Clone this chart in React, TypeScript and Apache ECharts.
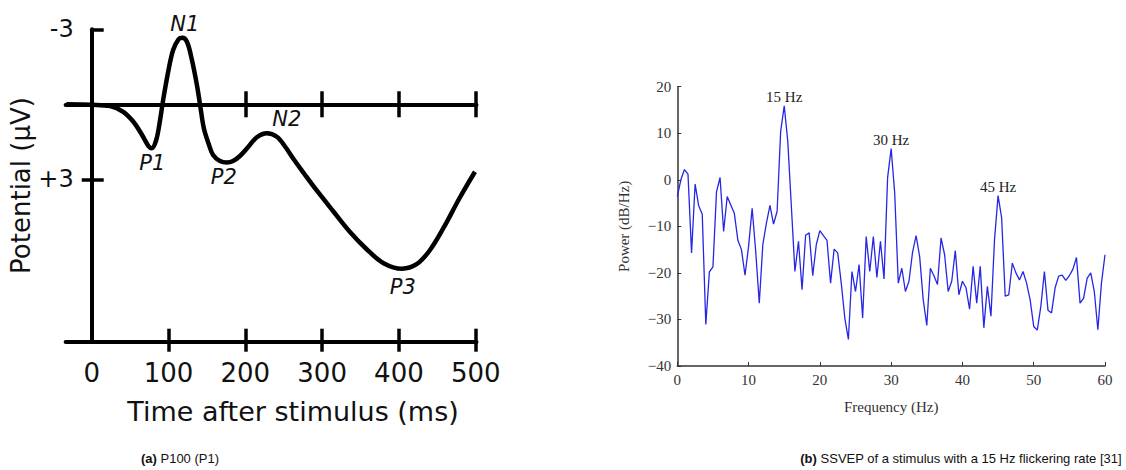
import React, { useEffect, useRef } from "react";
import * as echarts from "echarts";

// ---------- (a) P100 ERP waveform ----------
const erpTime = [-33, 0, 24, 41, 54, 65, 74, 78, 84, 89, 93, 100, 106, 113, 118, 124, 130, 137, 141, 146, 152, 158, 167, 176, 184, 193, 204, 215, 228, 241, 252, 263, 276, 293, 315, 336, 358, 380, 404, 423, 440, 458, 479, 499];
const erpPotential = [0, 0.02, 0.07, 0.3, 0.69, 1.2, 1.68, 1.76, 1.43, 0.63, -0.17, -1.37, -2.17, -2.6, -2.66, -2.5, -1.84, -0.77, 0, 0.96, 1.56, 2.03, 2.27, 2.33, 2.27, 2.07, 1.7, 1.32, 1.16, 1.3, 1.7, 2.2, 2.75, 3.45, 4.3, 5.1, 5.8, 6.36, 6.58, 6.4, 5.85, 4.95, 3.75, 2.7];
const erpXLabels = [0, 100, 200, 300, 400, 500];
const erpBottomTicks = [100, 200, 300, 400, 500];
const erpZeroTicks = [200, 300, 400, 500];
const erpYTicks = [-3, 3];
const erpPeakNames = ["N1", "P1", "P2", "N2", "P3"];
const erpPeakTime = [120, 79, 172, 254, 405];
const erpPeakPos = [-3, 2.35, 2.9, 0.6, 7.3];

// ---------- (b) SSVEP spectrum ----------
const freqHz = [
  0, 0.5, 1, 1.5, 2, 2.5, 3, 3.5, 4, 4.5, 5, 5.5, 6, 6.5, 7, 7.5, 8, 8.5, 9, 9.5,
  10, 10.5, 11, 11.5, 12, 12.5, 13, 13.5, 14, 14.5, 15, 15.5, 16, 16.5, 17, 17.5, 18, 18.5, 19, 19.5,
  20, 20.5, 21, 21.5, 22, 22.5, 23, 23.5, 24, 24.5, 25, 25.5, 26, 26.5, 27, 27.5, 28, 28.5, 29, 29.5,
  30, 30.5, 31, 31.5, 32, 32.5, 33, 33.5, 34, 34.5, 35, 35.5, 36, 36.5, 37, 37.5, 38, 38.5, 39, 39.5,
  40, 40.5, 41, 41.5, 42, 42.5, 43, 43.5, 44, 44.5, 45, 45.5, 46, 46.5, 47, 47.5, 48, 48.5, 49, 49.5,
  50, 50.5, 51, 51.5, 52, 52.5, 53, 53.5, 54, 54.5, 55, 55.5, 56, 56.5, 57, 57.5, 58, 58.5, 59, 59.5, 60,
];
const powerDb = [
  -3.6, 0, 2.2, 1.2, -15.7, -0.9, -5.6, -7.4, -31.1, -19.8, -18.7, -2.6, 0.5, -11.1, -3.6, -5.4, -7.2, -13.0, -15.0, -20.5,
  -14.3, -6.1, -15.4, -26.5, -13.9, -9.3, -5.5, -9.5, -6.8, 10.4, 15.9, 8.2, -5.7, -19.7, -13.2, -23.6, -11.9, -11.4, -20.6, -13.9,
  -10.9, -12.0, -13.0, -22.2, -14.9, -15.7, -22.2, -29.7, -34.3, -19.7, -24.0, -18.2, -29.7, -12.2, -19.7, -12.2, -21.0, -13.2, -21.3, 0.4,
  6.7, -2.9, -22.2, -19.0, -24.0, -21.8, -15.6, -12.0, -16.5, -25.8, -31.3, -19.0, -20.6, -22.5, -12.5, -16.1, -24.0, -21.8, -15.2, -24.7,
  -21.8, -23.2, -27.8, -18.6, -26.5, -18.6, -31.8, -22.9, -29.3, -12.9, -3.4, -8.2, -25.0, -24.7, -17.9, -20.0, -21.5, -19.7, -22.2, -25.8,
  -31.5, -32.3, -27.2, -19.7, -28.0, -28.6, -23.2, -20.7, -20.5, -21.6, -20.6, -19.2, -16.7, -26.5, -25.4, -21.1, -20.0, -24.0, -32.2, -22.2, -16.1,
];
const peakFreqs = [15, 30, 45];
const peakPowers = [15.9, 6.7, -3.4];
const peakLabels = ["15 Hz", "30 Hz", "45 Hz"];
const specXTicks = [0, 10, 20, 30, 40, 50, 60];

const SANS = "DejaVu Sans";
const SERIF = "Liberation Serif";

export default function App() {
  const ref = useRef<HTMLDivElement>(null);
  useEffect(() => {
    if (!ref.current) return;
    const chart = echarts.init(ref.current, null, { renderer: "svg" });

    const left = 65.6, right = 476.5, top = 29.3, bottom = 341.7;
    const xMin = -34, xMax = 501;
    // place the y axis at x = 0 of the time scale
    const yOffset = -((0 - xMin) / (xMax - xMin)) * (right - left);
    const thick = { color: "#000", width: 4 };
    const baseX = {
      gridIndex: 0, type: "value", min: xMin, max: xMax, splitLine: { show: false },
    };
    const baseY = {
      gridIndex: 0, type: "value", min: -3, max: 9.5, inverse: true, splitLine: { show: false },
      offset: yOffset,
    };

    chart.setOption({
      animation: false,
      grid: [
        { left, top, width: right - left, height: bottom - top, containLabel: false, outerBoundsMode: "none" },
        { left: 677.3, top: 86.7, width: 427.7, height: 279.3, containLabel: false, outerBoundsMode: "none" },
      ],
      xAxis: [
        {
          ...baseX, position: "bottom",
          axisLine: { show: true, onZero: false, lineStyle: thick },
          axisTick: { show: true, inside: false, length: 10, customValues: erpBottomTicks, lineStyle: { color: "#000", width: 3.5 } },
          axisLabel: { show: true, customValues: erpXLabels, fontFamily: SANS, fontSize: 26, color: "#111", margin: 18 },
          name: "Time after stimulus (ms)", nameLocation: "middle", nameGap: 56,
          nameTextStyle: { fontFamily: SANS, fontSize: 27, color: "#111", padding: [0, 0, 0, 44] },
        },
        {
          ...baseX, position: "bottom",
          axisLine: { show: false, onZero: false },
          axisTick: { show: true, inside: true, length: 13, customValues: erpBottomTicks, lineStyle: { color: "#000", width: 3.5 } },
          axisLabel: { show: false },
        },
        {
          ...baseX, position: "bottom",
          axisLine: { show: true, onZero: true, lineStyle: thick },
          axisTick: { show: true, inside: true, length: 13, customValues: erpZeroTicks, lineStyle: { color: "#000", width: 3.5 } },
          axisLabel: { show: false },
        },
        {
          ...baseX, position: "bottom",
          axisLine: { show: false, onZero: true },
          axisTick: { show: true, inside: false, length: 13, customValues: erpZeroTicks, lineStyle: { color: "#000", width: 3.5 } },
          axisLabel: { show: false },
        },
        {
          gridIndex: 1, type: "value", min: 0, max: 60, interval: 10, position: "bottom",
          splitLine: { show: false },
          axisLine: { show: true, onZero: false, lineStyle: { color: "#333", width: 1.5 } },
          axisTick: { show: true, inside: true, length: 4, lineStyle: { color: "#333", width: 1 } },
          axisLabel: { fontFamily: SERIF, fontSize: 15, color: "#333", margin: 6, customValues: specXTicks },
          name: "Frequency (Hz)", nameLocation: "middle", nameGap: 33,
          nameTextStyle: { fontFamily: SERIF, fontSize: 15, color: "#333" },
        },
      ],
      yAxis: [
        {
          ...baseY, position: "left",
          axisLine: { show: true, onZero: false, lineStyle: thick },
          axisTick: { show: true, inside: true, length: 12, customValues: erpYTicks, lineStyle: { color: "#000", width: 3.5 } },
          axisLabel: {
            show: true, customValues: erpYTicks, fontFamily: SANS, fontSize: 24, color: "#111", margin: 18,
            formatter: (v: number) => (v > 0 ? "+" + v : String(v)),
          },
          name: "Potential (µV)", nameLocation: "middle", nameGap: 44, nameRotate: 90,
          nameTextStyle: { fontFamily: SANS, fontSize: 26, color: "#111" },
        },
        {
          ...baseY, position: "left",
          axisLine: { show: false, onZero: false },
          axisTick: { show: true, inside: false, length: 10, customValues: [3], lineStyle: { color: "#000", width: 3.5 } },
          axisLabel: { show: false },
        },
        {
          gridIndex: 1, type: "value", min: -40, max: 20, interval: 10, position: "left",
          splitLine: { show: false },
          axisLine: { show: true, onZero: false, lineStyle: { color: "#333", width: 1.5 } },
          axisTick: { show: true, inside: true, length: 4, lineStyle: { color: "#333", width: 1 } },
          axisLabel: {
            fontFamily: SERIF, fontSize: 15, color: "#333", margin: 6,
            formatter: (v: number) => (v < 0 ? "\u2212" + Math.abs(v) : String(v)),
          },
          name: "Power (dB/Hz)", nameLocation: "middle", nameGap: 46, nameRotate: 90,
          nameTextStyle: { fontFamily: SERIF, fontSize: 15, color: "#333" },
        },
      ],
      series: [
        {
          type: "line", xAxisIndex: 0, yAxisIndex: 0,
          data: erpTime.map((t, i) => [t, erpPotential[i]]),
          smooth: 0.35, symbol: "none",
          lineStyle: { color: "#000", width: 4.5 },
          markPoint: {
            symbol: "rect", symbolSize: 1, itemStyle: { color: "rgba(0,0,0,0)" },
            label: { show: true, position: "inside", fontFamily: SANS, fontStyle: "italic", fontSize: 21, color: "#111" },
            data: erpPeakNames.map((n, i) => ({
              coord: [erpPeakTime[i], erpPeakPos[i]], value: n,
              label: { formatter: n, offset: n === "N1" ? [1, -5] : [0, 0] },
            })),
          },
        },
        {
          type: "line", xAxisIndex: 4, yAxisIndex: 2,
          data: freqHz.map((f, i) => [f, powerDb[i]]),
          symbol: "none",
          lineStyle: { color: "#2626e6", width: 1.3 },
          markPoint: {
            symbol: "rect", symbolSize: 1, itemStyle: { color: "rgba(0,0,0,0)" },
            label: { show: true, position: "top", distance: 1, fontFamily: SERIF, fontSize: 15, color: "#222" },
            data: peakFreqs.map((f, i) => ({ coord: [f, peakPowers[i]], value: peakLabels[i], label: { formatter: peakLabels[i] } })),
          },
        },
      ],
      graphic: [
        {
          type: "text", x: 180, y: 458,
          style: {
            text: "{b|(a)} P100 (P1)", align: "center", verticalAlign: "middle",
            fontFamily: "Liberation Sans", fontSize: 13, fill: "#111",
            rich: { b: { fontWeight: "bold", fontFamily: "Liberation Sans", fontSize: 13 } },
          },
        },
        {
          type: "text", x: 961, y: 458,
          style: {
            text: "{b|(b)} SSVEP of a stimulus with a 15 Hz flickering rate [31]", align: "center", verticalAlign: "middle",
            fontFamily: "Liberation Sans", fontSize: 13, fill: "#111",
            rich: { b: { fontWeight: "bold", fontFamily: "Liberation Sans", fontSize: 13 } },
          },
        },
      ],
    });
    return () => chart.dispose();
  }, []);
  return (
    <div
      ref={ref}
      style={{ position: "absolute", left: 0, top: 0, width: 1126, height: 470, background: "#fff" }}
    />
  );
}
